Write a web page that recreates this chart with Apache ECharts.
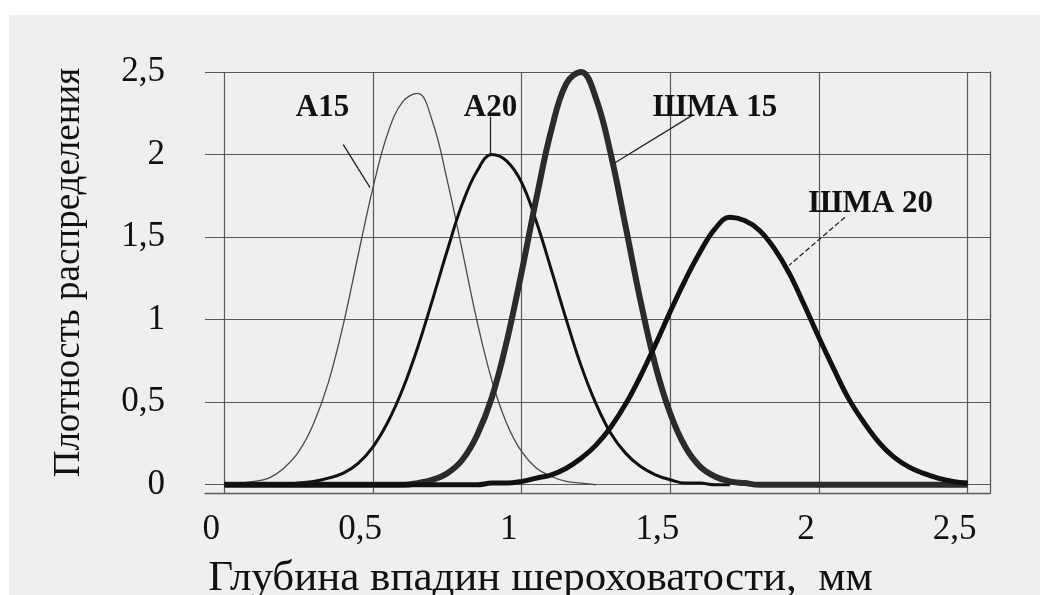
<!DOCTYPE html>
<html>
<head>
<meta charset="utf-8">
<script src="https://cdn.jsdelivr.net/npm/echarts@6/dist/echarts.min.js"></script>
<style>
html, body { margin: 0; padding: 0; background: #ffffff; }
#chart { position: absolute; left: 9px; top: 15px; width: 1031px; height: 580px; }
</style>
</head>
<body>
<div id="chart"></div>
<script>
// глубина впадин, мм (общая сетка по оси X)
var depth = [0, 0.05, 0.1, 0.15, 0.2, 0.25, 0.3, 0.35, 0.4, 0.45,
    0.5, 0.55, 0.6, 0.65, 0.7, 0.75, 0.8, 0.85, 0.9, 0.95,
    1, 1.05, 1.1, 1.15, 1.2, 1.25, 1.3, 1.35, 1.4, 1.45,
    1.5, 1.55, 1.6, 1.65, 1.7, 1.75, 1.8, 1.85, 1.9, 1.95,
    2, 2.05, 2.1, 2.15, 2.2, 2.25, 2.3, 2.35, 2.4, 2.45, 2.5];

// плотность распределения
var a15 = [0, 0.01, 0.02, 0.04, 0.10, 0.20, 0.37, 0.62, 0.97, 1.39,
    1.80, 2.13, 2.32, 2.37, 2.20, 1.84, 1.42, 0.99, 0.63, 0.37,
    0.20, 0.10, 0.05, 0.02, 0.01, 0];
var a20 = [0, 0, 0, 0, 0, 0.01, 0.02, 0.04, 0.07, 0.13,
    0.23, 0.38, 0.58, 0.83, 1.12, 1.42, 1.70, 1.90, 2.00, 1.96,
    1.83, 1.59, 1.30, 1.00, 0.72, 0.49, 0.31, 0.19, 0.11, 0.06,
    0.03, 0.01, 0.01, 0, 0];
var shma15 = [0, 0, 0, 0, 0, 0, 0, 0, 0, 0,
    0, 0, 0, 0.01, 0.03, 0.07, 0.15, 0.30, 0.53, 0.87,
    1.29, 1.74, 2.15, 2.43, 2.50, 2.34, 2.00, 1.56, 1.11, 0.72,
    0.43, 0.23, 0.11, 0.05, 0.02, 0.01, 0, 0, 0, 0,
    0, 0, 0, 0, 0, 0, 0, 0, 0, 0, 0];
var shma20 = [0, 0, 0, 0, 0, 0, 0, 0, 0, 0,
    0, 0, 0, 0, 0, 0, 0, 0, 0.01, 0.01,
    0.02, 0.04, 0.06, 0.10, 0.16, 0.24, 0.35, 0.49, 0.66, 0.85,
    1.05, 1.24, 1.41, 1.55, 1.62, 1.60, 1.54, 1.43, 1.28, 1.09,
    0.89, 0.70, 0.52, 0.38, 0.26, 0.17, 0.11, 0.07, 0.04, 0.02, 0.01];

var xTicks = [0, 0.5, 1, 1.5, 2, 2.5];
var yTicks = [0, 0.5, 1, 1.5, 2, 2.5];

var serif = '"Liberation Serif", "DejaVu Serif", serif';
var gridColor = '#5a5a5a';

function pairs(values) {
    return values.map(function (v, i) { return [depth[i], v]; });
}

function comma(v) {
    return String(v).replace('.', ',');
}

function callout(name, textAt, from, to, dashed) {
    return {
        markPoint: {
            silent: true,
            symbol: 'rect',
            symbolSize: 1,
            itemStyle: { color: 'rgba(0,0,0,0)' },
            label: {
                show: true,
                position: 'inside',
                formatter: '{b}',
                fontFamily: serif,
                fontWeight: 'bold',
                fontSize: 31,
                color: '#111'
            },
            data: [{ name: name, coord: textAt }]
        },
        markLine: {
            silent: true,
            symbol: ['none', 'none'],
            label: { show: false },
            lineStyle: { color: '#222', width: 1.3, type: dashed ? 'dashed' : 'solid' },
            data: [[{ coord: from }, { coord: to }]]
        }
    };
}

function line(name, values, width, color, note) {
    return Object.assign({
        name: name,
        type: 'line',
        smooth: 0.4,
        symbol: 'none',
        data: pairs(values),
        lineStyle: { width: width, color: color },
        itemStyle: { color: color },
        z: 3
    }, note);
}

var chart = echarts.init(document.getElementById('chart'));
chart.setOption({
    backgroundColor: '#efefef',
    animation: false,
    grid: {
        left: 196,
        right: 50,
        top: 57,
        bottom: 102,
        outerBoundsMode: 'none'
    },
    xAxis: {
        type: 'value',
        min: -0.065,
        max: 2.575,
        name: 'Глубина впадин шероховатости,  мм',
        nameLocation: 'middle',
        nameGap: 64,
        nameTextStyle: { fontFamily: serif, fontSize: 43, color: '#111', padding: [0, 114, 0, 0] },
        axisLine: { show: true, onZero: false, lineStyle: { color: gridColor, width: 1.3 } },
        axisTick: { show: false, customValues: xTicks },
        axisLabel: {
            customValues: xTicks,
            formatter: comma,
            margin: 19,
            padding: [0, 26, 0, 0],
            fontFamily: serif,
            fontSize: 35,
            color: '#111'
        },
        splitLine: { show: true, lineStyle: { color: gridColor, width: 1.2 } }
    },
    yAxis: [
        {
            type: 'value',
            min: -0.05,
            max: 2.5,
            name: 'Плотность распределения',
            nameLocation: 'middle',
            nameGap: 117,
            nameRotate: 90,
            nameTextStyle: { fontFamily: serif, fontSize: 37, color: '#111', padding: [0, 0, 0, 20] },
            axisLine: { show: false },
            axisTick: { show: false, customValues: yTicks },
            axisLabel: {
                customValues: yTicks,
                formatter: comma,
                margin: 40,
                fontFamily: serif,
                fontSize: 35,
                color: '#111'
            },
            splitLine: { show: true, lineStyle: { color: gridColor, width: 1.2 } }
        },
        {
            type: 'value',
            position: 'right',
            min: -0.05,
            max: 2.5,
            axisLine: { show: true, onZero: false, lineStyle: { color: gridColor, width: 1.3 } },
            axisTick: { show: false },
            axisLabel: { show: false },
            splitLine: { show: false }
        }
    ],
    series: [
        line('A15', a15, 1.3, '#4a4a4a',
            callout('A15', [0.33, 2.28], [0.40, 2.06], [0.49, 1.80])),
        line('A20', a20, 3, '#111',
            callout('A20', [0.895, 2.28], [0.895, 2.23], [0.895, 2.0])),
        line('ШМА 15', shma15, 6, '#2b2b2b',
            callout('ШМА 15', [1.65, 2.28], [1.576, 2.24], [1.314, 1.95])),
        line('ШМА 20', shma20, 5, '#111',
            callout('ШМА 20', [2.174, 1.70], [2.087, 1.62], [1.90, 1.33], true))
    ]
});
</script>
</body>
</html>
